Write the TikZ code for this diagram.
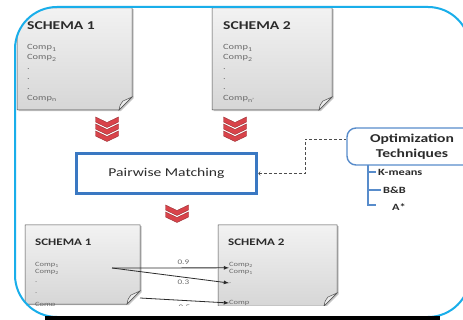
\documentclass[tikz,border=0pt]{standalone}
\usepackage{fontspec}
\setmainfont{Carlito}[FakeStretch=1.3]
\usetikzlibrary{calc,shadows}
\definecolor{framecyan}{HTML}{19AEEA}
\definecolor{boxblue}{HTML}{3A78C2}
\definecolor{chevred}{HTML}{D9434A}
\definecolor{inkgray}{HTML}{2B2B2B}
\definecolor{compgray}{HTML}{6A6A6A}
\tikzset{
  page/.style={
    draw=gray!60!black,
    line width=0.5pt,
    top color=gray!10,
    bottom color=gray!32,
    drop shadow={shadow xshift=1.6pt,shadow yshift=-1.2pt,opacity=0.45}
  },
  flap/.style={
    draw=gray!60!black,
    line width=0.5pt,
    fill=gray!15
  },
  chevron/.style={
    fill=chevred,
    draw=chevred!70!black,
    line width=0.4pt
  },
  title/.style={
    font=\bfseries\fontsize{12}{12}\selectfont,
    text=inkgray,
    anchor=west,
    inner sep=0pt
  },
  smalltitle/.style={
    title,
    font=\bfseries\fontsize{10}{10}\selectfont
  },
  comp/.style={
    font=\fontsize{8}{8}\selectfont,
    text=compgray,
    anchor=west,
    inner sep=0pt
  },
  smallcomp/.style={
    comp,
    font=\fontsize{6.5}{6.5}\selectfont
  },
  pairbox/.style={
    draw=boxblue,
    line width=3.5pt,
    fill=white,
    minimum width=180pt,
    minimum height=40pt,
    font=\fontsize{12}{12}\selectfont,
    text=inkgray
  },
  optbox/.style={
    draw=boxblue!85,
    line width=1.4pt,
    rounded corners=9pt,
    fill=white,
    minimum width=130pt,
    minimum height=37pt,
    align=center,
    font=\bfseries\fontsize{12}{15}\selectfont,
    text=inkgray
  },
  bracket/.style={draw=boxblue!85, line width=1.2pt},
  item/.style={
    font=\bfseries\fontsize{9.5}{9.5}\selectfont,
    text=inkgray,
    anchor=west,
    inner sep=2pt
  },
  link/.style={draw=gray!60!black, densely dashed, line width=0.6pt},
  match/.style={draw=inkgray, line width=0.8pt, -latex},
  weight/.style={font=\fontsize{7}{7}\selectfont, text=compgray, inner sep=1pt},
  frame/.style={draw=framecyan, line width=2pt, rounded corners=42pt}
}

\begin{document}
\begin{tikzpicture}[x=1pt,y=-1pt]
  \useasboundingbox (0,0) rectangle (463,320);
  \fill[white] (0,0) rectangle (463,320);

  \begin{scope}
    \clip[rounded corners=42pt] (15,7) rectangle (470,317);
    \clip (0,0) rectangle (463,305);

    % pages
    \foreach \xa/\ya/\xb/\yb in {17/8/132/110,212/8/332/110,25/225/140/304,218/225/337/306}{
      \draw[page] (\xa,\ya) -- (\xb,\ya) -- (\xb,\yb-13) -- (\xb-13,\yb) -- (\xa,\yb) -- cycle;
      \draw[flap] (\xb-13,\yb) .. controls (\xb-12,\yb-5) .. (\xb-9,\yb-9)
        .. controls (\xb-5,\yb-11) .. (\xb,\yb-13) -- cycle;
    }

    \node[title] (t1) at (27,26) {SCHEMA 1};
    \node[comp] (t1c1) at (27,48) {Comp\textsubscript{1}};
    \node[comp] (t1c2) at (27,58) {Comp\textsubscript{2}};
    \foreach \y/\n in {69/a,79/b,89/c}
      \node[comp] (t1d\n) at (27,\y) {.};
    \node[comp] (t1cn) at (27,99) {Comp\textsubscript{n}};

    \node[title] (t2) at (223,26) {SCHEMA 2};
    \node[comp] (t2c1) at (223,48) {Comp\textsubscript{1}};
    \node[comp] (t2c2) at (223,58) {Comp\textsubscript{2}};
    \foreach \y/\n in {69/a,79/b,89/c}
      \node[comp] (t2d\n) at (223,\y) {.};
    \node[comp] (t2cn) at (223,99) {Comp\textsubscript{n'}};

    \node[smalltitle] (b1) at (35,242) {SCHEMA 1};
    \node[smallcomp] (b1c1) at (35,265) {Comp\textsubscript{1}};
    \node[smallcomp] (b1c2) at (35,272) {Comp\textsubscript{2}};
    \node[smallcomp] (b1d1) at (35,282) {.};
    \node[smallcomp] (b1d2) at (35,293) {.};
    \node[smallcomp] (b1cn) at (35,305) {Comp};

    \node[smalltitle] (b2) at (228,242) {SCHEMA 2};
    \node[smallcomp] (b2c1) at (229,265) {Comp\textsubscript{2}};
    \node[smallcomp] (b2c2) at (229,272) {Comp\textsubscript{1}};
    \node[smallcomp] (b2d1) at (229,283) {.};
    \node[smallcomp] (b2cn) at (229,303) {Comp};

    % chevrons
    \foreach \cx/\cy/\k in {107/121/3,235/121/3,177/209/2}{
      \foreach \i in {1,...,\k}{
        \pgfmathsetmacro\cyy{\cy+7*(\i-1)}
        \draw[chevron] (\cx-11.5,\cyy-4) -- (\cx,\cyy+1.5) -- (\cx+11.5,\cyy-4)
          -- (\cx+11.5,\cyy+1) -- (\cx,\cyy+6.5) -- (\cx-11.5,\cyy+1) -- cycle;
      }
    }

    \node[pairbox] (pair) at (166.5,173.5) {Pairwise Matching};
    \node[optbox] (opt) at (412,146.5) {Optimization\\Techniques};

    \coordinate (bend) at (305,139);
    \draw[link,<-] (pair.east) -| (bend) -- (bend -| opt.west);

    \node[item] (km) at (376,172) {K-means};
    \node[item] (bb) at (381,190) {B\&B};
    \node[item] (astar) at (390,207) {A*};
    \coordinate (brtop) at (368,165);
    \coordinate (brend) at (376,205);
    \draw[bracket] (brtop) |- (brend);
    \foreach \n in {km,bb}
      \draw[bracket] (brtop |- \n.west) -- (\n.west);

    % matches
    \coordinate (src) at (112,268);
    \coordinate (src2) at (140,298);
    \draw[match] (src) -- node[weight,pos=0.61,above=2pt] {0.9} (b2c1.south west);
    \draw[match] (src) -- node[weight,pos=0.61,below=1pt] {0.3} (b2d1.west);
    \draw[match] (src2) -- node[weight,pos=0.5,below=3pt] {0.5} (b2cn.west);
  \end{scope}

  \draw[frame] (15,7) rectangle (470,317);
  \fill[black] (45,315.5) rectangle (440,320);
\end{tikzpicture}
\end{document}
